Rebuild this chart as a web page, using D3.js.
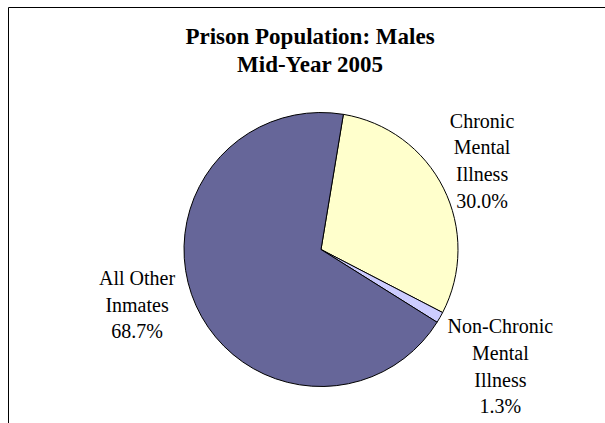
<!DOCTYPE html>
<html>
<head>
<meta charset="utf-8">
<script src="https://cdn.jsdelivr.net/npm/d3@7"></script>
<style>
  html, body { margin: 0; padding: 0; background: #fff; }
  svg { display: block; }
</style>
</head>
<body>
<svg id="chart" width="605" height="423"></svg>
<script>
// ---- data ----
const titleLines = ["Prison Population: Males", "Mid-Year 2005"];
const categories = ["Chronic\nMental\nIllness", "Non-Chronic\nMental\nIllness", "All Other\nInmates"];
const values = [30.0, 1.3, 68.7];
const colors = ["#FFFFCC", "#CCCCFF", "#666699"];

// ---- layout ----
const W = 605, H = 423;
const cx = 321, cy = 249.5, R = 137;
const startDeg = 9.4;
const labelRadius = [184, 214, 192];
const labelNudgeDeg = [-2.3, 3.3, 7.6];
const lineH = 26.7;

const svg = d3.select("#chart");

// chart border (extends past right/bottom)
svg.append("path")
  .attr("d", `M8.5,${H + 2} V7.5 H${W + 2}`)
  .attr("fill", "none")
  .attr("stroke", "#000")
  .attr("stroke-width", 1);

// title
const title = svg.append("text")
  .attr("text-anchor", "middle")
  .attr("font-family", "'Liberation Serif', 'Times New Roman', serif")
  .attr("font-weight", "bold")
  .attr("font-size", 23)
  .attr("fill", "#000");
titleLines.forEach((t, i) => {
  title.append("tspan").attr("x", 310).attr("y", 44 + i * 28).text(t);
});

// pie
const start = startDeg * Math.PI / 180;
const pie = d3.pie().sort(null).value(d => d)
  .startAngle(start).endAngle(start + 2 * Math.PI);
const arcs = pie(values);
const arc = d3.arc().innerRadius(0).outerRadius(R);

const g = svg.append("g").attr("transform", `translate(${cx},${cy})`);
g.selectAll("path.slice")
  .data(arcs)
  .join("path")
  .attr("class", "slice")
  .attr("d", arc)
  .attr("fill", (d, i) => colors[i])
  .attr("stroke", "#000")
  .attr("stroke-width", 1)
  .attr("stroke-linejoin", "round");

// labels
arcs.forEach((d, i) => {
  const a = (d.startAngle + d.endAngle) / 2 + labelNudgeDeg[i] * Math.PI / 180;
  const lx = Math.sin(a) * labelRadius[i];
  const ly = -Math.cos(a) * labelRadius[i];
  const lines = categories[i].split("\n").concat([d3.format(".1f")(values[i]) + "%"]);
  const n = lines.length;
  const t = g.append("text")
    .attr("text-anchor", "middle")
    .attr("font-family", "'Liberation Serif', 'Times New Roman', serif")
    .attr("font-size", 20)
    .attr("fill", "#000");
  lines.forEach((s, k) => {
    t.append("tspan")
      .attr("x", lx)
      .attr("y", ly + (k - (n - 1) / 2) * lineH + 7)
      .text(s);
  });
});
</script>
</body>
</html>
